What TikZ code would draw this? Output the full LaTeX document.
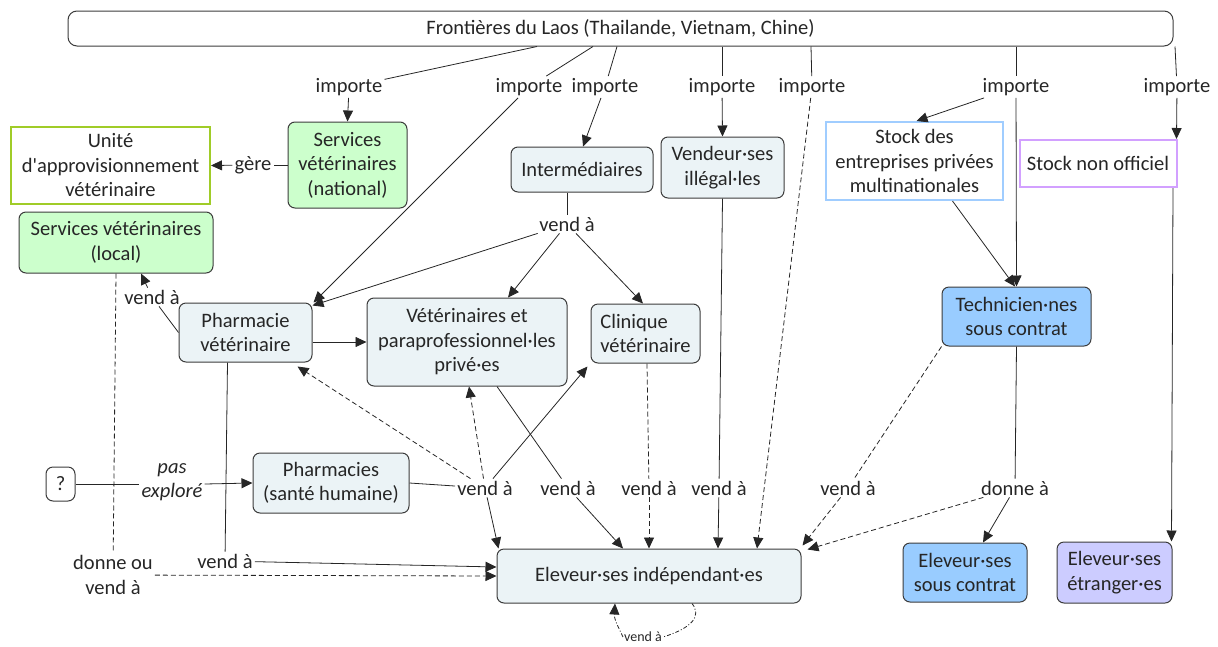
\documentclass[tikz,border=0pt]{standalone}
\usepackage{fontspec}
\setmainfont{Carlito}
\usetikzlibrary{arrows.meta}
\definecolor{cgray}{RGB}{235,243,246}
\definecolor{cgreen}{RGB}{204,255,204}
\definecolor{cblue}{RGB}{153,204,255}
\definecolor{clav}{RGB}{204,204,255}
\definecolor{bolive}{RGB}{160,204,40}
\definecolor{bblue}{RGB}{160,205,255}
\definecolor{blav}{RGB}{210,160,255}
\definecolor{bdark}{RGB}{60,60,60}
\begin{document}
\begin{tikzpicture}[x=1pt,y=-1pt,
  every node/.style={font=\fontsize{20.5}{24.5}\selectfont, text=black!85},
  concept/.style={draw=bdark, line width=1pt, rounded corners=7pt, fill=cgray,
    align=center, inner sep=0pt},
  plainbox/.style={fill=white, line width=2pt, align=center, inner sep=0pt},
  lbl/.style={inner sep=2pt, align=center},
  link/.style={line width=0.8pt, draw=black!85},
  arr/.style={link, -{Triangle[length=11pt,width=10pt]}},
  dsh/.style={dash pattern=on 5pt off 3pt},
  dshdot/.style={dash pattern=on 4pt off 2pt on 1pt off 2pt}
]
\useasboundingbox (0,0) rectangle (1218,646);

% concepts
\node[concept, fill=white, rounded corners=9pt, minimum width=1105pt, minimum height=35pt] (front) at (620.5,28.5) {Frontières du Laos (Thailande, Vietnam, Chine)};
\node[concept, fill=cgreen, minimum width=119pt, minimum height=86pt] (nat) at (347.5,165) {Services\\vétérinaires\\(national)};
\node[plainbox, draw=bolive, minimum width=199pt, minimum height=77pt] (unite) at (110.5,165.5) {Unité\\d\textquotesingle approvisionnement\\vétérinaire};
\node[concept, fill=cgreen, minimum width=194pt, minimum height=61pt] (local) at (116,242.5) {Services vétérinaires\\(local)};
\node[concept, minimum width=142pt, minimum height=45pt] (interm) at (582,169.5) {Intermédiaires};
\node[concept, minimum width=123pt, minimum height=61pt] (vendeur) at (722.5,167.5) {Vendeur·ses\\illégal·les};
\node[plainbox, draw=bblue, minimum width=177pt, minimum height=78pt] (stock) at (914.5,161) {Stock des\\entreprises privées\\multinationales};
\node[plainbox, draw=blav, minimum width=157pt, minimum height=47pt] (stockno) at (1098,163.5) {Stock non officiel};
\node[concept, minimum width=133pt, minimum height=59pt] (pv) at (245.5,332.5) {Pharmacie\\vétérinaire};
\node[concept, minimum width=200pt, minimum height=88pt] (vet) at (467,342) {Vétérinaires et\\paraprofessionnel·les\\privé·es};
\node[concept, align=left, minimum width=109pt, minimum height=59pt] (clin) at (645.5,333.5) {Clinique\\vétérinaire};
\node[concept, fill=cblue, minimum width=149pt, minimum height=59pt] (tech) at (1016.5,316.5) {Technicien·nes\\sous contrat};
\node[concept, fill=white, minimum width=29pt, minimum height=34pt] (q) at (60.5,484) {?};
\node[concept, minimum width=156pt, minimum height=60pt] (ph) at (331,483) {Pharmacies\\(santé humaine)};
\node[concept, minimum width=304pt, minimum height=54pt] (elev) at (649,576) {Eleveur·ses indépendant·es};
\node[concept, fill=cblue, minimum width=124pt, minimum height=59pt] (elevc) at (965,572.5) {Eleveur·ses\\sous contrat};
\node[concept, fill=clav, minimum width=115pt, minimum height=61pt] (eleve) at (1114.5,572.5) {Eleveur·ses\\étranger·es};

% linking phrases
\node[lbl] (imp1) at (349,87) {importe};
\node[lbl] (imp2) at (529,87) {importe};
\node[lbl] (imp3) at (605,87) {importe};
\node[lbl] (imp4) at (722,87) {importe};
\node[lbl] (imp5) at (812,87) {importe};
\node[lbl] (imp6) at (1016,87) {importe};
\node[lbl] (imp7) at (1177,87) {importe};
\node[lbl] (gere) at (253,165) {gère};
\node[lbl] (vInt) at (567,224) {vend à};
\node[lbl] (vPL) at (152,297) {vend à};
\node[lbl, font=\fontsize{20.5}{24.5}\selectfont\itshape] (pasexp) at (172,482) {pas\\exploré};
\node[lbl] (donne) at (113,575) {donne ou\\vend à};
\node[lbl] (vPh) at (225,561) {vend à};
\node[lbl] (vPH) at (485,488) {vend à};
\node[lbl] (vVet) at (568,488) {vend à};
\node[lbl] (vClin) at (649,488) {vend à};
\node[lbl] (vVend) at (719,488) {vend à};
\node[lbl] (vTech) at (848,488) {vend à};
\node[lbl] (donneA) at (1015,488) {donne à};
\node[lbl, inner sep=1pt, font=\fontsize{14}{16}\selectfont] (vLoop) at (643,637) {vend à};

% imports from the borders
\draw[link] ([xshift=-83.5pt]front.south) -- (imp1);
\draw[link] ([xshift=-27.5pt]front.south) -- (imp2);
\draw[link] ([xshift=-3.5pt]front.south) -- (imp3);
\draw[link] ([xshift=101.5pt]front.south) -- (imp4);
\draw[link] ([xshift=190.5pt]front.south) -- (imp5);
\draw[link] ([xshift=395.5pt]front.south) -- (imp6);
\draw[link] ([xshift=554.5pt]front.south) -- (imp7);
\draw[arr] (imp1) -- (nat.north);
\draw[arr] (imp2) -- ([xshift=1pt]pv.north east);
\draw[arr] (imp3) -- ([xshift=1pt]interm.north);
\draw[arr] (imp4) -- (vendeur.north);
\draw[arr, dsh] (imp5) -- ([xshift=108pt]elev.north);
\draw[arr] (imp6) -- ([xshift=2pt]stock.north);
\draw[arr] (imp6) -- (tech.north);
\draw[arr] (imp7) -- ([xshift=-1pt]stockno.north east);

% national services
\draw[link] (nat.west) -- (gere);
\draw[arr] (gere) -- (unite.east);

% intermediaries
\draw[link] ([xshift=-15pt]interm.south) -- (vInt);
\draw[arr] (vInt) -- ([yshift=-3pt]pv.north east);
\draw[arr] (vInt) -- ([xshift=41pt]vet.north);
\draw[arr] (vInt) -- ([xshift=-2.5pt]clin.north);

% veterinary pharmacy
\draw[link] (pv.west) -- (vPL);
\draw[arr] (vPL) -- ([xshift=25pt]local.south);
\draw[arr] (pv.east |- vet.west) -- (vet.west);
\draw[link] ([xshift=-18pt]pv.south) -- (vPh);
\draw[arr] (vPh) -- ([yshift=9pt]elev.west);

% local services
\draw[link, dsh] (local.south) -- (donne);
\draw[arr, dsh] (donne) -- (elev.west);

% unexplored source and human pharmacies
\draw[link] (q.east) -- (q.east -| pasexp.west);
\draw[arr] (pasexp.east |- q.east) -- (ph.west);
\draw[link] (ph.east) -- (vPH);
\draw[arr, dsh] (vPH) -- ([xshift=-15pt,yshift=-4pt]pv.south east);
\draw[arr, dsh] (vPH) -- ([xshift=2pt]vet.south);
\draw[arr] (vPH) -- ([xshift=-3pt,yshift=-3pt]clin.south west);
\draw[arr] (vPH) -- ([xshift=2pt]elev.north west);

% sales to independent farmers
\draw[link] ([xshift=30pt]vet.south) -- (vVet);
\draw[arr] (vVet) -- ([xshift=-26pt]elev.north);
\draw[link, dsh] ([xshift=1.5pt]clin.south) -- (vClin);
\draw[arr, dsh] (vClin) -- (elev.north);
\draw[link] (vendeur.south) -- (vVend);
\draw[arr] (vVend) -- ([xshift=69pt]elev.north);

% contract technicians
\draw[arr] ([xshift=38pt]stock.south) -- ([xshift=-1.5pt]tech.north);
\draw[link, dsh] (tech.south west) -- (vTech);
\draw[arr, dsh] (vTech) -- ([xshift=1pt,yshift=3pt]elev.north east);
\draw[link] (tech.south) -- (donneA);
\draw[arr] (donneA) -- ([xshift=18pt]elevc.north);
\draw[arr, dsh] (donneA) -- ([xshift=6pt,yshift=-1pt]elev.north east);

% unofficial stock
\draw[arr] ([xshift=-4.5pt]stockno.south east) -- ([xshift=-1pt]eleve.north east);

% farmer to farmer
\draw[link, dshdot] ([xshift=43pt]elev.south) .. controls (702,616) and (692,628) .. (vLoop.east);
\draw[arr, dshdot] (vLoop.west) .. controls (620,630) and (614,620) .. ([xshift=-34pt]elev.south);
\end{tikzpicture}
\end{document}
